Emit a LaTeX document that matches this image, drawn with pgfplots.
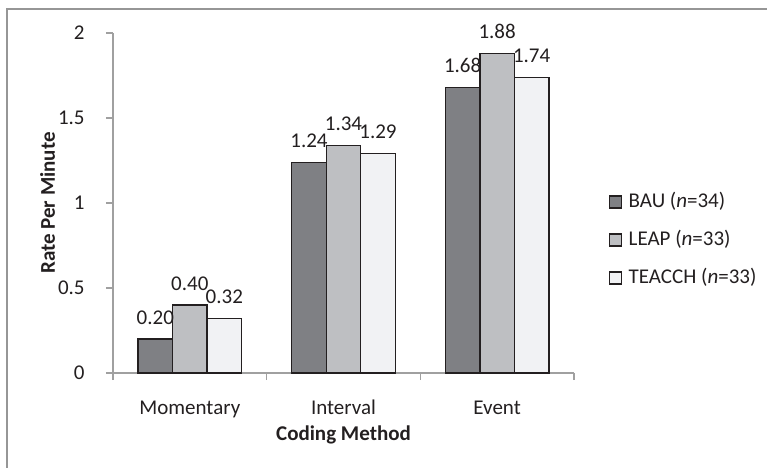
\documentclass[border=0pt]{standalone}
\usepackage{fontspec}
\setmainfont{Carlito}
\usepackage{pgfplots}
\pgfplotsset{compat=1.18}

\definecolor{baucol}{RGB}{127,128,132}
\definecolor{leapcol}{RGB}{190,191,194}
\definecolor{teacchcol}{RGB}{241,242,244}
\definecolor{inkcol}{RGB}{35,31,32}
\definecolor{axiscol}{RGB}{160,160,160}
\definecolor{framecol}{RGB}{150,150,150}

\pgfplotsset{
  sqlegend/.style={legend image code/.code={%
      \draw[##1,line width=0.6pt] (0pt,-3pt) rectangle (6pt,3pt);}},
}

\begin{document}
\fontsize{10.5}{12.6}\selectfont
\begin{tikzpicture}
\useasboundingbox (0,0) rectangle (383.5pt,233.5pt);
% outer chart frame
\draw[framecol, line width=0.8pt] (3.5pt,-5pt) -- (3.5pt,229pt) -- (390pt,229pt);
\begin{axis}[
  at={(56.5pt,47pt)}, anchor=south west,
  width=230.5pt, height=170pt, scale only axis,
  xmin=-0.5, xmax=2.5, ymin=0, ymax=2,
  axis x line*=bottom, axis y line*=left,
  axis line style={axiscol, line width=0.7pt, -},
  ybar=0pt, bar width=17.25pt,
  xtick={0,1,2}, xticklabels={Momentary,Interval,Event},
  major x tick style={draw=none},
  extra x ticks={-0.5,0.5,1.5,2.5}, extra x tick labels={},
  extra x tick style={major x tick style={draw=axiscol, line width=0.6pt}},
  ytick={0,0.5,1,1.5,2}, yticklabels={0,0.5,1,1.5,2},
  tick align=outside, major tick length=3.5pt,
  tick style={axiscol, line width=0.6pt},
  xticklabel style={inkcol, inner sep=0pt, anchor=north, text height=7pt, text depth=2pt, yshift=-10pt},
  yticklabel style={inkcol, inner sep=0pt, anchor=east, xshift=-10.5pt},
  xlabel={\bfseries Coding Method},
  xlabel style={inkcol, at={(axis description cs:0.5,0)}, anchor=base, yshift=-33.5pt},
  ylabel={\bfseries Rate Per Minute},
  ylabel style={inkcol, at={(axis description cs:-0.1421,0.5)}, anchor=center},
  nodes near coords={\pgfmathprintnumber[fixed,fixed zerofill,precision=2,assume math mode=true]{\pgfplotspointmeta}},
  nodes near coords style={inkcol, inner sep=0pt, anchor=base, yshift=7.5pt},
  legend cell align=left,
  legend style={draw=none, fill=none, at={(1.074,0.391)}, anchor=west,
    inner sep=0pt, row sep=9pt, column sep=3.5pt, text=inkcol,
    nodes={inner sep=0pt, text height=7.5pt, text depth=2.5pt}},
]
\addplot[fill=baucol, draw=inkcol, line width=0.6pt, sqlegend]
  coordinates {(0,0.20) (1,1.24) (2,1.68)};
\addplot[fill=leapcol, draw=inkcol, line width=0.6pt, sqlegend]
  coordinates {(0,0.40) (1,1.34) (2,1.88)};
\addplot[fill=teacchcol, draw=inkcol, line width=0.6pt, sqlegend]
  coordinates {(0,0.32) (1,1.29) (2,1.74)};
\legend{BAU (\textit{n}=34), LEAP (\textit{n}=33), TEACCH (\textit{n}=33)}
\end{axis}
\end{tikzpicture}
\end{document}
